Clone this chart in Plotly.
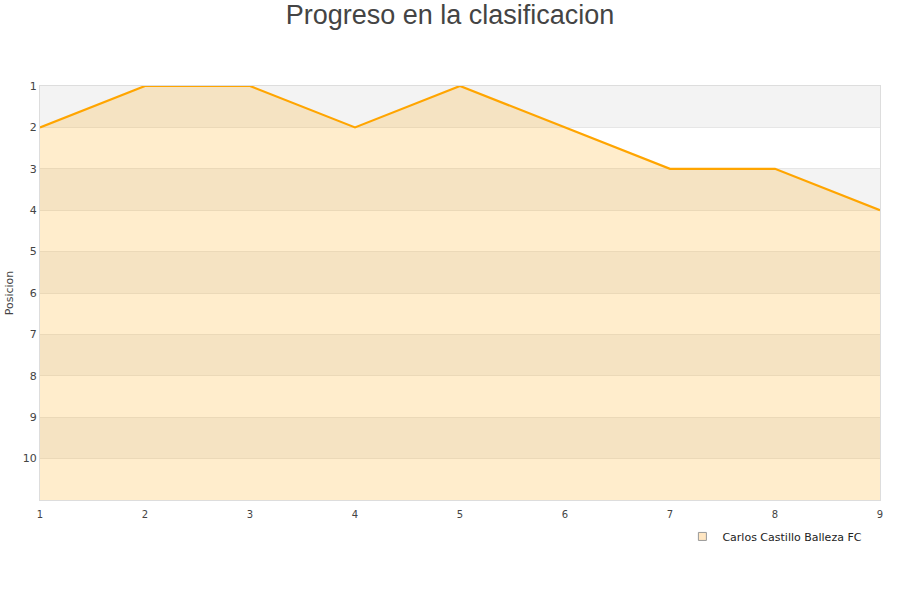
import plotly.graph_objects as go

jornadas = [1, 2, 3, 4, 5, 6, 7, 8, 9]
posiciones = [2, 1, 1, 2, 1, 2, 3, 3, 4]
equipo = "Carlos Castillo Balleza FC"
y_ticks = [1, 2, 3, 4, 5, 6, 7, 8, 9, 10]
y_bottom = 11

fig = go.Figure()
# baseline for fill
fig.add_trace(go.Scatter(x=jornadas, y=[y_bottom] * len(jornadas), mode="lines",
                         line=dict(width=0), showlegend=False, hoverinfo="skip"))
fig.add_trace(go.Scatter(x=jornadas, y=posiciones, mode="lines", fill="tonexty",
                         fillcolor="rgba(255,165,0,0.2)",
                         line=dict(color="#FFA500", width=2.2), showlegend=False, name=equipo))
# legend-only entry
fig.add_trace(go.Scatter(x=[None], y=[None], mode="markers", name=equipo,
                         marker=dict(symbol="square", size=8, color="rgba(255,200,120,0.45)",
                                     line=dict(color="#999", width=1))))

shapes = []
for k in range(1, y_bottom, 2):
    shapes.append(dict(type="rect", xref="paper", yref="y", x0=0, x1=1, y0=k, y1=k + 1,
                       fillcolor="#f3f3f3", line=dict(width=0), layer="below"))

fig.update_layout(
    width=900, height=600,
    paper_bgcolor="white", plot_bgcolor="white",
    margin=dict(l=40, r=20, t=86, b=100, autoexpand=False),
    title=dict(text="Progreso en la clasificacion", x=0.5, xanchor="center", y=0.975, yanchor="middle",
               font=dict(family="Liberation Sans, Arial", size=27, color="#444")),
    font=dict(family="DejaVu Sans, Verdana", size=11, color="#444"),
    shapes=shapes,
    showlegend=True,
    legend=dict(x=0.985, xanchor="right", y=-0.053, yanchor="top", bgcolor="rgba(255,255,255,1)",
                font=dict(size=11, color="#222"), itemwidth=30),
    xaxis=dict(range=[1, 9], tickvals=jornadas, showgrid=False, zeroline=False, automargin=False,
               showline=True, linecolor="#ddd", mirror=True, ticks="outside", ticklen=5,
               tickcolor="rgba(0,0,0,0)", tickfont=dict(size=10)),
    yaxis=dict(range=[y_bottom, 1], tickvals=y_ticks, showgrid=True, gridcolor="#e6e6e6",
               zeroline=False, showline=True, linecolor="#ddd", mirror=True, ticks="", automargin=False,
               title=dict(text="Posicion", font=dict(size=11), standoff=6),
               tickfont=dict(size=11)),
)
fig.write_html("out.html", config={"displayModeBar": False},
               post_script="document.body.style.margin='0';")
